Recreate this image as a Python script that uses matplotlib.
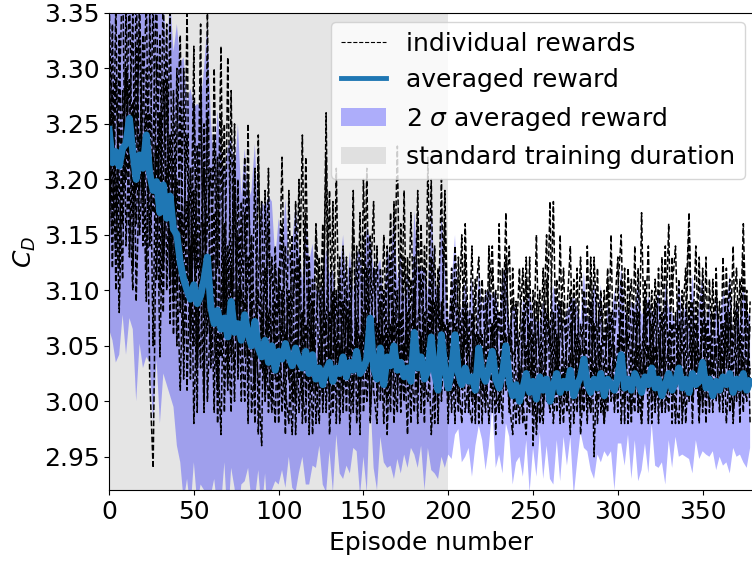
import numpy as np
import matplotlib.pyplot as plt

# episodes sampled every 2 episodes
episodes = np.arange(0, 380, 2)

avg_reward = [
    3.245, 3.215, 3.225, 3.212, 3.228, 3.232, 3.255, 3.225, 3.200, 3.222,
    3.210, 3.240, 3.205, 3.190, 3.198, 3.170, 3.195, 3.165, 3.185, 3.155,
    3.150, 3.125, 3.110, 3.100, 3.092, 3.105, 3.088, 3.095, 3.110, 3.130,
    3.085, 3.070, 3.082, 3.065, 3.075, 3.058, 3.090, 3.062, 3.070, 3.055,
    3.078, 3.060, 3.050, 3.072, 3.048, 3.040, 3.055, 3.035, 3.050, 3.028,
    3.045, 3.038, 3.052, 3.040, 3.032, 3.048, 3.036, 3.030, 3.045, 3.025,
    3.042, 3.020, 3.030, 3.015, 3.028, 3.035, 3.018, 3.030, 3.025, 3.040,
    3.022, 3.035, 3.028, 3.045, 3.025, 3.030, 3.038, 3.075, 3.030, 3.020,
    3.048, 3.015, 3.040, 3.032, 3.050, 3.028, 3.035, 3.022, 3.030, 3.018,
    3.062, 3.030, 3.040, 3.020, 3.028, 3.058, 3.025, 3.010, 3.060, 3.030,
    3.012, 3.028, 3.060, 3.025, 3.015, 3.030, 3.018, 3.022, 3.010, 3.048,
    3.025, 3.018, 3.030, 3.045, 3.020, 3.012, 3.025, 3.050, 3.018, 3.005,
    3.015, 3.000, 3.012, 3.025, 3.008, 3.018, 3.002, 3.022, 3.010, 3.020,
    3.000, 3.015, 3.025, 3.008, 3.018, 3.012, 3.028, 3.005, 3.015, 3.022,
    3.038, 3.015, 3.008, 3.020, 3.012, 3.025, 3.005, 3.020, 3.015, 3.010,
    3.022, 3.042, 3.012, 3.020, 3.010, 3.025, 3.018, 3.008, 3.022, 3.015,
    3.030, 3.012, 3.020, 3.005, 3.015, 3.025, 3.010, 3.018, 3.030, 3.012,
    3.020, 3.008, 3.025, 3.015, 3.018, 3.035, 3.012, 3.020, 3.005, 3.018,
    3.010, 3.022, 3.015, 3.025, 3.008, 3.020, 3.012, 3.025, 3.010, 3.018,
]

two_sigma = [
    0.18, 0.16, 0.19, 0.17, 0.15, 0.19, 0.18, 0.16, 0.20, 0.17,
    0.18, 0.20, 0.17, 0.21, 0.16, 0.19, 0.17, 0.15, 0.18, 0.16,
    0.19, 0.18, 0.20, 0.17, 0.19, 0.16, 0.18, 0.17, 0.19, 0.21,
    0.17, 0.14, 0.18, 0.16, 0.13, 0.17, 0.15, 0.14, 0.18, 0.13,
    0.15, 0.12, 0.14, 0.16, 0.11, 0.14, 0.12, 0.15, 0.13, 0.10,
    0.12, 0.10, 0.13, 0.09, 0.11, 0.13, 0.10, 0.08, 0.12, 0.10,
    0.10, 0.08, 0.07, 0.09, 0.11, 0.08, 0.10, 0.06, 0.09, 0.11,
    0.08, 0.10, 0.07, 0.09, 0.11, 0.08, 0.12, 0.07, 0.09, 0.10,
    0.08, 0.07, 0.10, 0.09, 0.12, 0.08, 0.10, 0.07, 0.09, 0.06,
    0.11, 0.09, 0.08, 0.10, 0.07, 0.12, 0.09, 0.08, 0.11, 0.09,
    0.06, 0.08, 0.09, 0.05, 0.07, 0.08, 0.06, 0.09, 0.05, 0.07,
    0.06, 0.08, 0.07, 0.05, 0.08, 0.06, 0.09, 0.07, 0.05, 0.08,
    0.07, 0.05, 0.08, 0.06, 0.09, 0.06, 0.07, 0.05, 0.08, 0.06,
    0.07, 0.09, 0.06, 0.08, 0.05, 0.07, 0.06, 0.09, 0.07, 0.05,
    0.08, 0.06, 0.07, 0.09, 0.06, 0.08, 0.05, 0.07, 0.06, 0.09,
    0.06, 0.08, 0.07, 0.05, 0.08, 0.06, 0.09, 0.07, 0.06, 0.08,
    0.05, 0.07, 0.08, 0.06, 0.09, 0.06, 0.07, 0.05, 0.08, 0.06,
    0.07, 0.06, 0.09, 0.05, 0.07, 0.08, 0.06, 0.07, 0.05, 0.08,
    0.06, 0.08, 0.07, 0.09, 0.05, 0.07, 0.06, 0.08, 0.07, 0.06,
]

reward_env1 = [
    3.31, 3.15, 3.36, 3.12, 3.28, 3.20, 3.38, 3.17, 3.25, 3.33,
    3.14, 3.30, 3.19, 3.37, 3.11, 3.26, 3.08, 3.29, 3.13, 3.22,
    3.05, 3.27, 3.02, 3.18, 3.10, 3.32, 3.04, 3.15, 3.21, 3.06,
    3.13, 2.99, 3.22, 3.04, 3.11, 3.01, 3.28, 3.06, 3.15, 3.00,
    3.17, 3.02, 3.09, 2.98, 3.24, 3.03, 3.12, 2.99, 3.06, 3.14,
    3.01, 3.10, 2.97, 3.19, 3.05, 3.00, 3.13, 2.98, 3.07, 3.03,
    3.11, 2.98, 3.04, 3.16, 2.99, 3.08, 3.01, 3.21, 3.02, 3.09,
    2.99, 3.12, 3.03, 3.07, 2.97, 3.15, 3.02, 3.10, 3.18, 3.00,
    3.06, 2.98, 3.14, 3.01, 3.09, 3.23, 3.00, 3.05, 2.97, 3.11,
    3.04, 3.17, 2.99, 3.08, 3.02, 3.13, 2.98, 3.06, 3.20, 3.01,
    3.07, 2.99, 3.11, 3.02, 2.98, 3.09, 3.04, 3.14, 3.00, 3.06,
    2.98, 3.10, 3.03, 3.07, 2.97, 3.16, 3.01, 3.05, 2.99, 3.12,
    3.02, 2.98, 3.08, 3.00, 3.13, 2.96, 3.05, 3.10, 2.99, 3.04,
    3.18, 3.00, 3.06, 2.98, 3.09, 3.03, 2.97, 3.11, 3.01, 3.05,
    2.99, 3.14, 3.02, 3.07, 2.98, 3.04, 3.10, 3.00, 3.15, 2.99,
    3.06, 3.01, 3.12, 2.98, 3.04, 3.08, 2.99, 3.17, 3.02, 3.05,
    3.00, 3.09, 2.98, 3.13, 3.03, 2.99, 3.07, 3.01, 3.11, 2.98,
    3.05, 3.16, 3.00, 3.04, 2.98, 3.10, 3.02, 3.06, 2.99, 3.12,
    3.01, 3.07, 2.98, 3.04, 3.14, 3.00, 3.06, 2.99, 3.09, 3.02,
]

reward_env2 = [
    3.18, 3.34, 3.10, 3.27, 3.39, 3.14, 3.24, 3.35, 3.09, 3.21,
    3.33, 3.12, 3.26, 3.05, 3.31, 3.16, 3.38, 3.10, 3.24, 3.06,
    3.20, 3.08, 3.30, 3.01, 3.14, 3.05, 3.23, 3.12, 2.99, 3.26,
    3.03, 3.17, 2.98, 3.09, 3.25, 3.02, 3.12, 3.00, 3.20, 3.07,
    3.00, 3.13, 3.05, 3.21, 2.97, 3.08, 3.01, 3.16, 3.03, 2.98,
    3.12, 2.99, 3.06, 3.02, 3.15, 2.97, 3.08, 3.24, 3.00, 3.10,
    2.97, 3.07, 3.13, 2.99, 3.05, 3.01, 3.18, 2.98, 3.11, 3.03,
    3.08, 3.00, 3.19, 2.98, 3.06, 3.02, 3.12, 2.99, 3.04, 3.14,
    3.00, 3.10, 2.97, 3.07, 3.02, 2.99, 3.16, 3.04, 3.08, 2.98,
    3.13, 3.01, 3.06, 2.98, 3.22, 3.03, 3.09, 3.00, 3.05, 3.16,
    3.00, 3.05, 2.98, 3.13, 3.03, 3.08, 2.99, 3.04, 3.11, 2.98,
    3.06, 3.01, 3.14, 2.99, 3.08, 3.02, 3.05, 3.17, 3.00, 2.97,
    3.09, 3.03, 2.98, 3.11, 3.01, 3.06, 2.97, 3.03, 3.12, 3.00,
    3.02, 3.08, 2.99, 3.15, 3.00, 3.05, 3.10, 2.98, 3.04, 3.13,
    3.06, 2.98, 3.09, 3.01, 3.12, 2.99, 3.03, 3.07, 3.00, 3.05,
    2.99, 3.11, 3.03, 3.06, 2.98, 3.14, 3.01, 3.04, 3.09, 2.98,
    3.07, 3.01, 3.12, 3.00, 3.05, 3.16, 2.98, 3.08, 3.02, 3.10,
    2.98, 3.04, 3.09, 3.01, 3.13, 2.99, 3.07, 3.02, 3.11, 3.00,
    3.06, 2.99, 3.12, 3.02, 3.05, 3.09, 2.98, 3.13, 3.01, 3.07,
]

reward_env3 = [
    3.25, 3.12, 3.29, 3.20, 3.11, 3.36, 3.18, 3.10, 3.32, 3.15,
    3.22, 3.09, 3.35, 3.17, 3.23, 3.04, 3.20, 3.34, 3.07, 3.28,
    3.12, 3.01, 3.15, 3.24, 3.06, 3.19, 2.99, 3.29, 3.08, 3.16,
    3.21, 3.06, 3.01, 3.26, 2.99, 3.14, 3.04, 3.19, 3.02, 3.10,
    3.07, 3.25, 2.99, 3.04, 3.11, 3.18, 3.00, 3.06, 3.13, 3.02,
    3.05, 3.16, 3.01, 2.98, 3.09, 3.12, 2.99, 3.04, 3.17, 2.97,
    3.09, 3.02, 2.98, 3.12, 3.06, 3.19, 2.99, 3.05, 3.00, 3.14,
    3.03, 3.09, 2.99, 3.14, 3.01, 3.05, 3.21, 2.98, 3.07, 3.02,
    3.12, 3.03, 3.06, 2.99, 3.18, 3.01, 3.08, 3.00, 3.13, 3.04,
    2.99, 3.07, 3.11, 3.02, 3.00, 3.06, 3.14, 2.98, 3.09, 3.04,
    3.03, 3.12, 3.01, 3.06, 3.15, 2.99, 3.02, 3.08, 2.98, 3.10,
    3.03, 2.99, 3.07, 3.12, 3.01, 3.04, 2.98, 3.09, 3.14, 3.02,
    2.98, 3.06, 3.12, 3.01, 2.99, 3.10, 3.04, 2.98, 3.06, 3.15,
    3.00, 3.04, 3.11, 3.02, 2.98, 3.08, 3.14, 3.00, 3.06, 2.99,
    3.10, 3.03, 2.99, 3.13, 3.05, 3.01, 2.98, 3.11, 3.04, 3.08,
    3.13, 2.98, 3.05, 3.09, 3.02, 2.99, 3.12, 3.00, 3.06, 3.14,
    2.98, 3.05, 3.02, 3.08, 2.99, 3.04, 3.13, 3.00, 2.98, 3.07,
    3.12, 3.00, 3.05, 3.14, 3.02, 3.07, 2.98, 3.11, 3.03, 3.05,
    2.99, 3.13, 3.03, 3.08, 2.98, 3.04, 3.11, 3.02, 3.00, 3.09,
]

reward_env4 = [
    3.14, 3.26, 3.20, 3.08, 3.22, 3.30, 3.13, 3.27, 3.19, 3.37,
    3.18, 3.26, 3.02, 2.94, 3.19, 3.33, 3.12, 3.21, 3.15, 3.11,
    3.30, 3.14, 3.06, 3.11, 3.21, 2.98, 3.10, 3.03, 3.25, 3.00,
    3.09, 3.24, 3.05, 2.97, 3.16, 3.08, 2.99, 3.22, 3.04, 3.12,
    3.22, 2.98, 3.15, 3.06, 3.02, 2.96, 3.19, 3.04, 2.99, 3.09,
    2.98, 3.07, 3.14, 3.03, 2.97, 3.06, 3.20, 3.01, 2.98, 3.13,
    3.04, 3.15, 3.00, 3.06, 3.22, 2.97, 3.03, 3.10, 2.98, 3.06,
    3.13, 2.97, 3.05, 3.02, 3.17, 2.99, 3.04, 3.15, 3.01, 2.98,
    3.09, 3.02, 3.00, 3.13, 2.98, 3.07, 3.03, 3.19, 3.01, 3.06,
    3.10, 2.98, 3.16, 3.04, 3.07, 2.97, 3.03, 3.12, 3.00, 3.07,
    2.98, 3.09, 3.04, 2.99, 3.07, 3.13, 3.00, 2.98, 3.06, 3.03,
    3.11, 3.04, 2.98, 3.05, 3.10, 2.99, 3.12, 3.01, 3.06, 3.04,
    3.05, 3.12, 3.00, 2.97, 3.07, 3.02, 3.15, 3.00, 2.98, 3.08,
    3.06, 2.98, 3.03, 3.09, 3.04, 3.00, 3.07, 3.03, 3.12, 2.97,
    3.02, 3.08, 3.11, 2.95, 3.06, 3.10, 3.01, 2.99, 3.08, 3.03,
    3.04, 3.08, 2.98, 3.12, 3.06, 3.01, 3.05, 2.98, 3.11, 3.03,
    3.10, 2.99, 3.06, 3.03, 3.14, 3.01, 3.04, 2.98, 3.07, 3.05,
    3.02, 3.09, 2.98, 3.07, 3.04, 3.00, 3.13, 2.99, 3.06, 3.10,
    3.04, 3.01, 3.08, 2.99, 3.07, 3.12, 3.02, 3.05, 3.10, 2.98,
]

reward_env5 = [
    3.37, 3.21, 3.13, 3.33, 3.16, 3.24, 3.29, 3.12, 3.38, 3.19,
    3.27, 3.36, 3.14, 3.23, 3.38, 3.10, 3.29, 3.18, 3.35, 3.09,
    3.24, 3.33, 3.09, 3.36, 3.02, 3.27, 3.12, 3.34, 3.00, 3.35,
    3.07, 3.30, 3.12, 3.32, 3.06, 3.31, 3.10, 3.25, 3.03, 3.18,
    3.04, 3.20, 3.10, 3.01, 3.22, 3.09, 3.03, 3.21, 3.00, 3.12,
    3.08, 3.22, 3.04, 3.10, 3.01, 3.18, 3.05, 3.00, 3.22, 3.07,
    3.01, 3.16, 3.09, 3.03, 3.26, 3.00, 3.10, 3.04, 3.13, 2.99,
    3.10, 3.04, 3.16, 3.06, 2.99, 3.20, 3.08, 3.03, 3.12, 3.05,
    3.03, 3.15, 3.04, 3.17, 3.05, 3.10, 2.99, 3.13, 3.04, 3.17,
    3.06, 3.19, 3.02, 3.14, 3.05, 3.20, 3.01, 3.10, 3.03, 3.19,
    3.05, 3.02, 3.14, 3.08, 3.01, 3.16, 3.05, 3.00, 3.09, 3.13,
    3.01, 3.07, 3.10, 3.14, 3.03, 3.08, 3.02, 3.13, 3.05, 3.09,
    3.08, 3.01, 3.05, 3.13, 3.03, 2.99, 3.09, 3.04, 3.01, 3.11,
    3.05, 3.18, 3.01, 3.06, 3.12, 3.02, 3.04, 3.09, 2.99, 3.07,
    3.04, 3.00, 3.13, 3.05, 3.02, 3.09, 3.05, 3.12, 3.01, 3.06,
    3.10, 3.15, 3.01, 3.07, 3.11, 3.03, 3.08, 3.02, 3.04, 3.09,
    3.03, 3.11, 3.06, 2.99, 3.09, 3.05, 3.10, 3.14, 3.03, 3.01,
    3.08, 3.17, 3.03, 3.09, 3.00, 3.12, 3.05, 3.01, 3.08, 3.04,
    3.09, 3.03, 3.05, 3.11, 3.02, 3.08, 3.05, 3.16, 3.04, 3.01,
]

reward_env6 = [
    3.22, 3.28, 3.17, 3.25, 3.19, 3.30, 3.21, 3.26, 3.16, 3.24,
    3.19, 3.24, 3.15, 3.22, 3.17, 3.26, 3.13, 3.20, 3.11, 3.18,
    3.10, 3.17, 3.05, 3.13, 3.08, 3.15, 3.03, 3.11, 3.16, 3.09,
    3.05, 3.11, 3.02, 3.08, 3.13, 3.04, 3.09, 3.03, 3.10, 3.06,
    3.09, 3.04, 3.07, 3.02, 3.10, 3.05, 3.01, 3.08, 3.03, 3.06,
    3.02, 3.07, 3.03, 3.09, 3.00, 3.06, 3.02, 3.08, 3.04, 3.01,
    3.06, 3.01, 3.05, 3.00, 3.07, 3.03, 3.09, 3.02, 3.05, 3.01,
    3.04, 3.07, 3.01, 3.06, 3.02, 3.08, 3.00, 3.05, 3.03, 3.07,
    3.02, 3.06, 3.01, 3.05, 3.08, 3.02, 3.04, 3.00, 3.06, 3.03,
    3.07, 3.02, 3.05, 3.01, 3.04, 3.09, 3.00, 3.03, 3.08, 3.02,
    3.01, 3.04, 3.07, 3.00, 3.03, 3.06, 3.01, 3.04, 2.99, 3.05,
    3.02, 3.00, 3.04, 3.07, 3.01, 2.99, 3.03, 3.06, 3.00, 3.02,
    3.00, 3.03, 2.99, 3.05, 3.01, 3.04, 2.98, 3.03, 3.00, 3.02,
    2.99, 3.02, 3.05, 3.00, 3.03, 2.99, 3.04, 3.01, 3.03, 3.00,
    3.04, 3.01, 2.99, 3.03, 3.00, 3.05, 2.98, 3.02, 3.01, 3.00,
    3.03, 3.06, 3.00, 3.02, 2.99, 3.04, 3.01, 2.98, 3.03, 3.01,
    3.04, 3.00, 3.02, 2.99, 3.03, 3.05, 3.00, 3.02, 3.04, 2.99,
    3.01, 3.03, 3.00, 3.05, 2.99, 3.02, 3.01, 3.00, 3.03, 3.02,
    3.00, 3.04, 3.01, 3.02, 2.99, 3.03, 3.00, 3.04, 3.01, 3.03,
]

individual_rewards = [reward_env1, reward_env2, reward_env3,
                      reward_env4, reward_env5, reward_env6]

avg = np.array(avg_reward)
band = np.array(two_sigma)

fig = plt.figure(figsize=(7.52, 5.62), dpi=100)
ax = fig.add_axes([0.145, 0.128, 0.857, 0.849])

ax.axvspan(0, 200, color="gray", alpha=0.2, lw=0, label="standard training duration")

ax.fill_between(episodes, avg - band, avg + band,
                color="blue", alpha=0.3, lw=0,
                label=r"2 $\sigma$ averaged reward")

for i, r in enumerate(individual_rewards):
    ax.plot(episodes, r, "--", color="black", linewidth=1.1,
            label="individual rewards" if i == 0 else None)

ax.plot(episodes, avg, color="#1f77b4", linewidth=5, label="averaged reward")

ax.set_xlim(0, 380)
ax.set_ylim(2.92, 3.35)
ax.set_yticks([2.95, 3.00, 3.05, 3.10, 3.15, 3.20, 3.25, 3.30, 3.35])
ax.set_xticks([0, 50, 100, 150, 200, 250, 300, 350])
ax.tick_params(labelsize=18)

ax.set_xlabel("Episode number", fontsize=18, labelpad=5)
ax.set_ylabel(r"$C_D$", fontsize=18)

handles, labels = ax.get_legend_handles_labels()
order = ["individual rewards", "averaged reward",
         r"2 $\sigma$ averaged reward", "standard training duration"]
hd = dict(zip(labels, handles))
leg = ax.legend([hd[k] for k in order], order, loc="upper right",
                fontsize=18, handlelength=1.8, borderaxespad=0.35)
leg.legend_handles[0].set_linewidth(0.8)
leg.legend_handles[1].set_linewidth(3.5)

fig.savefig("out.png", dpi=100)
